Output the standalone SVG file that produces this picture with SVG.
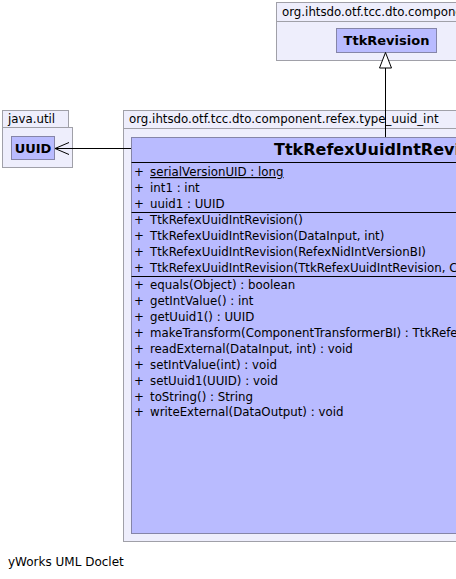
<svg xmlns="http://www.w3.org/2000/svg" width="456" height="579" viewBox="0 0 456 579">
<style>
.pkg{fill:#eeeefc;stroke:#a0a0a8;stroke-width:1}
.cls{fill:#b9bbff;stroke:#8585a8;stroke-width:1}
.sep{stroke:#000;stroke-width:1}
text{font-family:"DejaVu Sans",sans-serif;fill:#000}
.pl{font-size:11.8px}
.m{font-size:11.8px}
.cn{font-size:13px;font-weight:bold}
.title{font-size:16px;font-weight:bold}
.edge{stroke:#000;stroke-width:1;fill:none}
</style>
<rect width="456" height="579" fill="#fff"/>
<g id="pkg-dto-component">
<rect class="pkg" x="276.5" y="2.5" width="190" height="19"/>
<rect class="pkg" x="276.5" y="21.5" width="190" height="39"/>
<text class="pl" x="282" y="16">org.ihtsdo.otf.tcc.dto.component</text>
</g>
<g id="TtkRevision">
<rect class="cls" x="336.5" y="28.5" width="100" height="24"/>
<text class="cn" x="386.5" y="45" text-anchor="middle">TtkRevision</text>
</g>
<g id="pkg-java-util">
<rect class="pkg" x="2.5" y="110.5" width="66" height="17"/>
<rect class="pkg" x="2.5" y="127.5" width="70" height="40"/>
<text class="pl" x="8" y="123">java.util</text>
</g>
<g id="UUID">
<rect class="cls" x="11.5" y="136.5" width="43" height="23"/>
<text class="cn" x="33" y="152.5" text-anchor="middle">UUID</text>
</g>
<g id="pkg-type-uuid-int">
<rect class="pkg" x="123.5" y="110.5" width="340" height="18"/>
<rect class="pkg" x="123.5" y="128.5" width="340" height="413"/>
<text class="pl" x="129" y="123">org.ihtsdo.otf.tcc.dto.component.refex.type_uuid_int</text>
</g>
<g id="TtkRefexUuidIntRevision">
<rect class="cls" x="131.5" y="137.5" width="340" height="396"/>
<text class="title" x="274" y="155">TtkRefexUuidIntRevision</text>
<line class="sep" x1="131.5" y1="162.5" x2="471.5" y2="162.5"/>
<g class="m">
<text x="134" y="176">+</text><text x="150" y="176" text-decoration="underline">serialVersionUID : long</text>
<text x="134" y="192">+</text><text x="150" y="192">int1 : int</text>
<text x="134" y="208">+</text><text x="150" y="208">uuid1 : UUID</text>
</g>
<line class="sep" x1="131.5" y1="212.5" x2="471.5" y2="212.5"/>
<g class="m">
<text x="134" y="224">+</text><text x="150" y="224">TtkRefexUuidIntRevision()</text>
<text x="134" y="240">+</text><text x="150" y="240">TtkRefexUuidIntRevision(DataInput, int)</text>
<text x="134" y="256">+</text><text x="150" y="256">TtkRefexUuidIntRevision(RefexNidIntVersionBI)</text>
<text x="134" y="272">+</text><text x="150" y="272">TtkRefexUuidIntRevision(TtkRefexUuidIntRevision, ComponentTransformerBI)</text>
</g>
<line class="sep" x1="131.5" y1="276.5" x2="471.5" y2="276.5"/>
<g class="m">
<text x="134" y="289">+</text><text x="150" y="289">equals(Object) : boolean</text>
<text x="134" y="305">+</text><text x="150" y="305">getIntValue() : int</text>
<text x="134" y="321">+</text><text x="150" y="321">getUuid1() : UUID</text>
<text x="134" y="337">+</text><text x="150" y="337">makeTransform(ComponentTransformerBI) : TtkRefexUuidIntRevision</text>
<text x="134" y="353">+</text><text x="150" y="353">readExternal(DataInput, int) : void</text>
<text x="134" y="369">+</text><text x="150" y="369">setIntValue(int) : void</text>
<text x="134" y="385">+</text><text x="150" y="385">setUuid1(UUID) : void</text>
<text x="134" y="401">+</text><text x="150" y="401">toString() : String</text>
<text x="134" y="416">+</text><text x="150" y="416">writeExternal(DataOutput) : void</text>
</g>
</g>
<g id="connectors">
<line class="edge" x1="385.5" y1="68" x2="385.5" y2="137"/>
<polygon points="385.5,52.5 379.5,68 391.5,68" fill="#fff" stroke="#000" stroke-width="1"/>
<line class="edge" x1="55" y1="148.5" x2="131" y2="148.5"/>
<polyline class="edge" points="69,142.5 55,148.5 69,154.5"/>
</g>
<text x="8" y="566" style="font-size:12px">yWorks UML Doclet</text>
</svg>
